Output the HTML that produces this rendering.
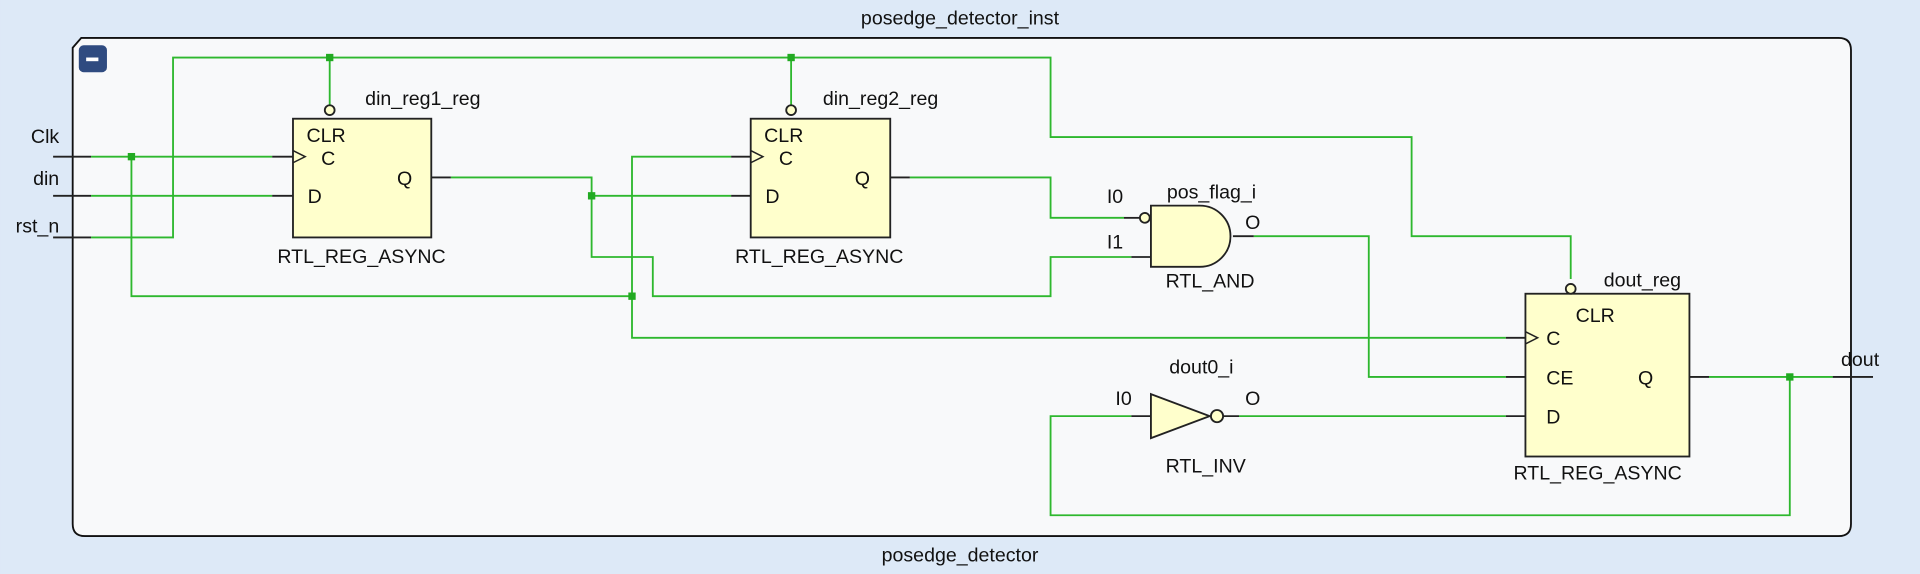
<!DOCTYPE html>
<html><head><meta charset="utf-8"><style>
html,body{margin:0;padding:0;background:#dde9f7;}
svg{display:block;}
text{font-family:"Liberation Sans",sans-serif;font-size:16px;fill:#111;}
</style></head><body>
<svg width="1920" height="574" viewBox="0 0 1568 469" xmlns="http://www.w3.org/2000/svg">
<rect x="0" y="0" width="1568" height="469" fill="#dde9f7"/>
<text x="784" y="20" text-anchor="middle">posedge_detector_inst</text>
<text x="784" y="459" text-anchor="middle">posedge_detector</text>
<path d="M66,31 H1502 Q1512,31 1512,41 V428 Q1512,438 1502,438 H69 Q59,438 59,428 V39 Z" fill="#f8f9fa" stroke="#111" stroke-width="1.5"/>
<rect x="64" y="37" width="23" height="22" rx="4" fill="#2f4b80"/>
<rect x="70" y="47" width="10" height="3" fill="#fff"/>
<text x="48" y="117" text-anchor="end">Clk</text>
<text x="48" y="151" text-anchor="end">din</text>
<text x="48" y="190" text-anchor="end">rst_n</text>
<g stroke="#222" stroke-width="1.5">
<line x1="43" y1="128" x2="74" y2="128"/><line x1="43" y1="160" x2="74" y2="160"/><line x1="43" y1="194" x2="74" y2="194"/>
<line x1="1497" y1="308" x2="1530" y2="308"/>
</g>
<text x="1535" y="299" text-anchor="end">dout</text>
<g stroke="#2eb82e" stroke-width="1.5" fill="none">
<polyline points="74,194 141,194 141,47 858,47 858,112 1153,112 1153,193 1283,193 1283,228"/>
<line x1="269" y1="47" x2="269" y2="86"/><line x1="646" y1="47" x2="646" y2="86"/>
<polyline points="74,128 222,128"/>
<polyline points="107,128 107,242 516,242 516,128 597,128"/>
<polyline points="516,242 516,276 1230,276"/>
<polyline points="74,160 222,160"/>
<polyline points="368,145 483,145 483,160 597,160"/>
<polyline points="483,160 483,210 533,210 533,242 858,242 858,210 924,210"/>
<polyline points="743,145 858,145 858,178 918,178"/>
<polyline points="1024,193 1118,193 1118,308 1230,308"/>
<polyline points="1396,308 1497,308"/>
<polyline points="1462,308 1462,421 858,421 858,340 924,340"/>
<polyline points="1012,340 1230,340"/>
</g>
<g fill="#22aa22">
<rect x="266" y="44" width="6" height="6"/><rect x="643" y="44" width="6" height="6"/>
<rect x="104" y="125" width="6" height="6"/><rect x="480" y="157" width="6" height="6"/>
<rect x="513" y="239" width="6" height="6"/><rect x="1459" y="305" width="6" height="6"/>
</g>
<g stroke="#222" stroke-width="1.5">
<line x1="222" y1="128" x2="239" y2="128"/><line x1="222" y1="160" x2="239" y2="160"/><line x1="352" y1="145" x2="368" y2="145"/>
<line x1="597" y1="128" x2="613" y2="128"/><line x1="597" y1="160" x2="613" y2="160"/><line x1="727" y1="145" x2="743" y2="145"/>
<line x1="1230" y1="276" x2="1246" y2="276"/><line x1="1230" y1="308" x2="1246" y2="308"/><line x1="1230" y1="340" x2="1246" y2="340"/><line x1="1380" y1="308" x2="1396" y2="308"/>
<line x1="924" y1="210" x2="940" y2="210"/><line x1="1007" y1="193" x2="1024" y2="193"/>
<line x1="918" y1="178" x2="931" y2="178"/>
<line x1="924" y1="340" x2="940" y2="340"/><line x1="999" y1="340" x2="1012" y2="340"/>
</g>
<g fill="#ffffcc" stroke="#222" stroke-width="1.5">
<rect x="239" y="97" width="113" height="97"/><rect x="613" y="97" width="114" height="97"/><rect x="1246" y="240" width="134" height="133"/>
<circle cx="269" cy="90" r="4"/><circle cx="646" cy="90" r="4"/><circle cx="1283" cy="236" r="4"/>
<path d="M940,168 H980 A25,25 0 0 1 980,218 H940 Z"/>
<circle cx="935" cy="178" r="4"/>
<path d="M940,322 L988,340 L940,358 Z"/>
<circle cx="994" cy="340" r="5"/>
</g>
<g fill="none" stroke="#222" stroke-width="1.2">
<polyline points="239,123 249,128 239,133"/><polyline points="613,123 623,128 613,133"/><polyline points="1246,271 1256,276 1246,281"/>
</g>
<text x="298" y="86">din_reg1_reg</text><text x="250" y="116">CLR</text><text x="262" y="135">C</text><text x="324" y="151">Q</text><text x="251" y="166">D</text>
<text x="295" y="215" text-anchor="middle">RTL_REG_ASYNC</text>
<text x="672" y="86">din_reg2_reg</text><text x="624" y="116">CLR</text><text x="636" y="135">C</text><text x="698" y="151">Q</text><text x="625" y="166">D</text>
<text x="669" y="215" text-anchor="middle">RTL_REG_ASYNC</text>
<text x="1310" y="234">dout_reg</text><text x="1287" y="263">CLR</text><text x="1263" y="282">C</text><text x="1263" y="314">CE</text><text x="1338" y="314">Q</text><text x="1263" y="346">D</text>
<text x="1305" y="392" text-anchor="middle">RTL_REG_ASYNC</text>
<text x="953" y="162">pos_flag_i</text><text x="904" y="166">I0</text><text x="904" y="203">I1</text><text x="1017" y="187">O</text>
<text x="952" y="235">RTL_AND</text>
<text x="955" y="305">dout0_i</text><text x="911" y="331">I0</text><text x="1017" y="331">O</text>
<text x="952" y="386">RTL_INV</text>
</svg>
</body></html>
